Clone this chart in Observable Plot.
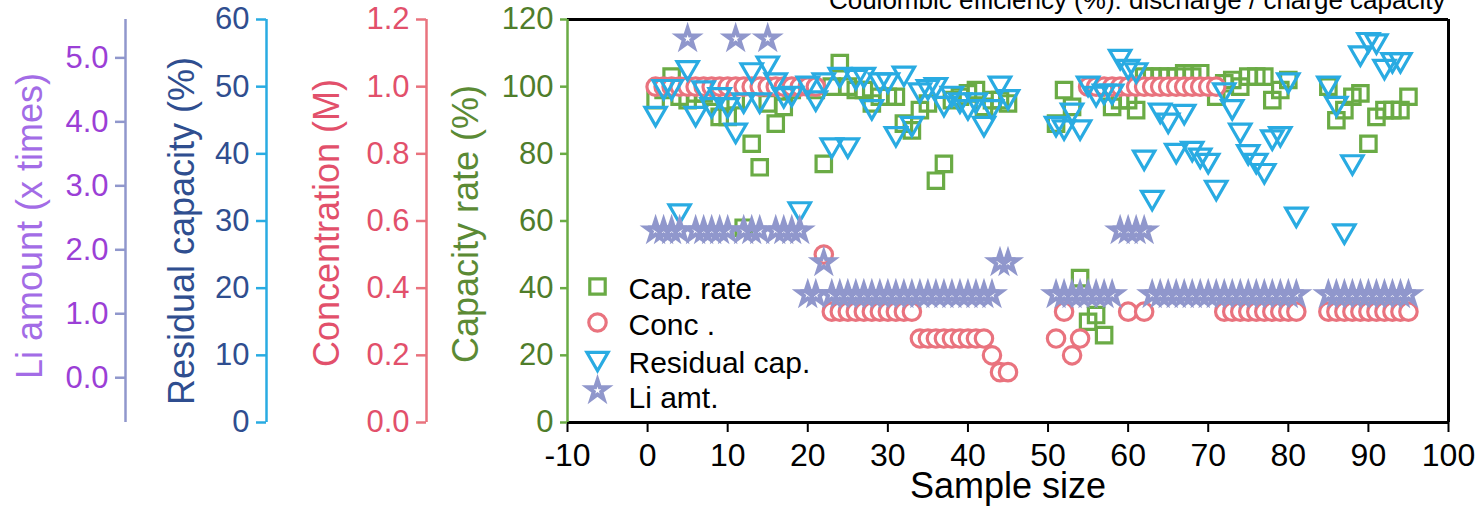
<!DOCTYPE html>
<html><head><meta charset="utf-8">
<script src="https://cdn.jsdelivr.net/npm/d3@7"></script>
<script src="https://cdn.jsdelivr.net/npm/@observablehq/plot@0.6"></script>
<style>
html,body{margin:0;padding:0;background:#fff;}
#chart{width:1483px;height:507px;overflow:hidden;}
</style></head><body><div id="chart"></div>
<script>
const FONT = "'Liberation Sans', Arial, Helvetica, sans-serif";

// ---- axis domains (each series has its own y axis) ----
const capDomain = [0, 120];
const concDomain = [0, 1.2];
const resDomain = [0, 60];
const liDomain = [-0.7, 5.6];

// ---- tick labels ----
const xTicks = [-10, 0, 10, 20, 30, 40, 50, 60, 70, 80, 90, 100];
const capTicks = [0, 20, 40, 60, 80, 100, 120];
const concTicks = [0, 0.2, 0.4, 0.6, 0.8, 1.0, 1.2];
const resTicks = [0, 10, 20, 30, 40, 50, 60];
const liTicks = [0, 1, 2, 3, 4, 5];

// ---- series: capacity rate (%) ----
const capX = [1,2,3,4,5,6,7,8,9,10,11,12,13,14,15,16,17,18,19,20,21,22,23,24,25,26,27,28,29,30,31,32,33,34,35,36,37,38,39,40,41,42,43,44,45,
  51,52,53,54,55,56,57,58,59,60,61,62,63,64,65,66,67,68,69,70,71,72,73,74,75,76,77,78,79,80,
  85,86,87,88,89,90,91,92,93,94,95];
const capRate = [96,99,103,97,96,98,98,97,91,91,96,58,83,76,95,89,94,99,100,100,99,77,100,107,100,99,99,95,97,97,97,89,87,93,95,72,77,96,97,98,99,94,96,96,95,
  89,99,94,43,30,32,26,94,96,96,93,103,103,103,103,103,104,103,104,100,97,101,102,100,103,103,103,96,99,102,
  100,90,93,97,98,83,91,93,93,93,97];

// ---- series: concentration (M) ----
const concX = [1,2,3,4,5,6,7,8,9,10,11,12,13,14,15,16,17,18,19,20,21,22,23,24,25,26,27,28,29,30,31,32,33,34,35,36,37,38,39,40,41,42,43,44,45,
  51,52,53,54,55,56,57,58,59,60,61,62,63,64,65,66,67,68,69,70,71,60,62,
  72,73,74,75,76,77,78,79,80,81,85,86,87,88,89,90,91,92,93,94,95];
const concVal = [1.0,1.0,1.0,1.0,1.0,1.0,1.0,1.0,1.0,1.0,1.0,1.0,1.0,1.0,1.0,1.0,1.0,1.0,1.0,1.0,1.0,0.5,
  0.33,0.33,0.33,0.33,0.33,0.33,0.33,0.33,0.33,0.33,0.33,
  0.25,0.25,0.25,0.25,0.25,0.25,0.25,0.25,0.25,0.2,0.15,0.15,
  0.25,0.33,0.2,0.25,1.0,1.0,1.0,1.0,1.0,1.0,1.0,1.0,1.0,1.0,1.0,1.0,1.0,1.0,1.0,1.0,1.0,0.33,0.33,
  0.33,0.33,0.33,0.33,0.33,0.33,0.33,0.33,0.33,0.33,
  0.33,0.33,0.33,0.33,0.33,0.33,0.33,0.33,0.33,0.33,0.33];

// ---- series: residual capacity (%) ----
const resX = [1,2,3,4,5,6,7,8,9,10,11,12,13,14,15,16,17,18,19,20,21,22,23,24,25,26,27,28,29,30,31,32,33,34,35,36,37,38,39,40,41,42,43,44,45,
  51,52,53,54,55,56,57,58,59,60,61,62,63,64,65,66,67,68,69,70,71,72,73,74,75,76,77,78,79,80,81,
  85,86,87,88,89,90,91,92,93,94];
const resVal = [46,50,50,31.5,52.8,46,49.8,47.3,48.8,47.3,43.5,48,52.5,48,53.5,51,48.8,49,31.8,50.5,48.3,51,41.3,51.8,41.3,51.5,51.8,47,51,51,43,52,44.5,49.5,50,50.3,47.5,49,48,47,48,44.5,47,50.5,48.5,
  44.5,44,46.5,44,50.5,49,49.3,49.3,54.5,53,52.5,39.5,33.5,46.5,45,40.5,46.3,40.8,39.8,39,35,49.5,47,43.5,40.3,39,37.5,42.5,43,51,31,
  50.5,47.5,28.5,38.8,55,57,56.8,53,54,54];

// ---- series: Li amount (x times) ----
const liX = [1,2,3,4,5,6,7,8,9,10,11,12,13,14,15,16,17,18,19,20,21,22,23,24,25,26,27,28,29,30,31,32,33,34,35,36,37,38,39,40,41,42,43,44,45,
  51,52,53,54,55,56,57,58,59,60,61,62,63,64,65,66,67,68,69,70,71,72,73,74,75,76,77,78,79,80,81,
  85,86,87,88,89,90,91,92,93,94,95];
const liVal = [2.3,2.3,2.3,2.3,5.3,2.3,2.3,2.3,2.3,2.3,5.3,2.3,2.3,2.3,5.3,2.3,2.3,2.3,2.3,1.3,1.3,1.8,
  1.3,1.3,1.3,1.3,1.3,1.3,1.3,1.3,1.3,1.3,1.3,1.3,1.3,1.3,1.3,1.3,1.3,1.3,1.3,1.3,1.3,1.8,1.8,
  1.3,1.3,1.3,1.3,1.3,1.3,1.3,1.3,2.3,2.3,2.3,2.3,
  1.3,1.3,1.3,1.3,1.3,1.3,1.3,1.3,1.3,1.3,1.3,1.3,1.3,1.3,1.3,1.3,1.3,1.3,1.3,
  1.3,1.3,1.3,1.3,1.3,1.3,1.3,1.3,1.3,1.3,1.3];

const legendLabels = ["Cap. rate", "Conc .", "Residual cap.", "Li amt."];
const axisTitles = ["Li amount (x times)", "Residual capacity (%)", "Concentration (M)", "Capacity rate (%)"];
const chartTitle = "Coulombic efficiency (%): discharge / charge capacity";
const xLabel = "Sample size";

// ---- colours ----
const C = {
  cap: "#6aab45", capText: "#4f7d2b", capTitle: "#5b8a35",
  conc: "#e9737e", concText: "#e2506b",
  res: "#29abe2", resText: "#2f4e8f",
  li: "#9097cc", liText: "#9b3fd6", liTitle: "#a36ce6"
};

// map each axis domain onto the shared 0-120 plotting range
const toShared = dom => v => (v - dom[0]) / (dom[1] - dom[0]) * 120;
const fromShared = dom => c => dom[0] + c / 120 * (dom[1] - dom[0]);

const capData = capX.map((x, i) => ({x, y: toShared(capDomain)(capRate[i])}));
const concData = concX.map((x, i) => ({x, y: toShared(concDomain)(concVal[i])}));
const resData = resX.map((x, i) => ({x, y: toShared(resDomain)(resVal[i])}));
const liData = liX.map((x, i) => ({x, y: toShared(liDomain)(liVal[i])}));

const downTri = {
  draw(ctx, size) {
    const r = Math.sqrt(size / Math.PI), R = r * 1.5, h = R * Math.sqrt(3) / 2;
    ctx.moveTo(0, R); ctx.lineTo(-h, -R / 2); ctx.lineTo(h, -R / 2); ctx.closePath();
  }
};

const fmt1 = dom => c => (Math.round(fromShared(dom)(c) * 10) / 10).toFixed(1);
const fmt0 = dom => c => String(Math.round(fromShared(dom)(c)));

function leftAxis(dom, ticks, fmt, dx, tickSize, lineColor, textColor) {
  return [
    Plot.ruleX([-10], {dx, y1: 0, y2: 120, stroke: lineColor, strokeWidth: 2.5}),
    Plot.axisY({anchor: "left", dx, ticks: ticks.map(toShared(dom)), tickFormat: fmt(dom),
      tickSize, tickPadding: 7, stroke: lineColor, strokeWidth: 2.5, fill: textColor,
      fontSize: 31, label: null})
  ];
}

const symbols = [
  {symbol: "square", r: 8.7, stroke: C.cap, fill: "none", strokeWidth: 3.2},
  {symbol: "circle", r: 8.7, stroke: C.conc, fill: "white", strokeWidth: 3.2},
  {symbol: downTri, r: 8.2, stroke: C.res, fill: "none", strokeWidth: 3.2},
  {symbol: "star", r: 6.2, stroke: C.li, fill: "none", strokeWidth: 4}
];
const legendSymDy = [267, 303, 339, 371];
const legendTextDy = [270, 306, 344, 379];

function vTitle(text, dx, dy, fill) {
  return Plot.text([text], {frameAnchor: "left", dx, dy, rotate: -90, textAnchor: "middle",
    lineAnchor: "middle", fontSize: 36, fill});
}

const marks = [
  // frame
  Plot.ruleY([120], {x1: -10, x2: 100, stroke: "black", strokeWidth: 3}),
  Plot.ruleX([100], {y1: 0, y2: 120, stroke: "black", strokeWidth: 3}),
  Plot.ruleY([0], {x1: -10, x2: 100, stroke: "black", strokeWidth: 3}),
  // x axis
  Plot.axisX({ticks: xTicks, tickFormat: d => String(d), tickSize: 10, tickPadding: 11,
    stroke: "black", strokeWidth: 2, fill: "black", fontSize: 32, label: null}),
  Plot.text([xLabel], {frameAnchor: "bottom", dy: 64, textAnchor: "middle", lineAnchor: "middle", fontSize: 36, fill: "black"}),
  // left axes
  ...leftAxis(liDomain, liTicks, fmt1, -442, 10, C.li, C.liText),
  ...leftAxis(resDomain, resTicks, fmt0, -301, 10, C.res, C.resText),
  ...leftAxis(concDomain, concTicks, fmt1, -141, 10, C.conc, C.concText),
  ...leftAxis(capDomain, capTicks, fmt0, 0, 7, C.cap, C.capText),
  vTitle(axisTitles[0], -537, 5, C.liTitle),
  vTitle(axisTitles[1], -385, 10, C.resText),
  vTitle(axisTitles[2], -240, 2, C.concText),
  vTitle(axisTitles[3], -101, 3, C.capTitle),
  // title (cut at the top)
  Plot.text([chartTitle], {frameAnchor: "top-right", dx: -3, dy: -19.3, textAnchor: "end", lineAnchor: "middle", fontSize: 26, fill: "black"}),
  // data
  Plot.dot(capData, {x: "x", y: "y", ...symbols[0]}),
  Plot.dot(concData, {x: "x", y: "y", ...symbols[1]}),
  Plot.dot(resData, {x: "x", y: "y", ...symbols[2]}),
  Plot.dot(liData, {x: "x", y: "y", ...symbols[3]}),
  // legend
  ...legendLabels.flatMap((lab, i) => [
    Plot.dot([lab], {frameAnchor: "top-left", dx: 30, dy: legendSymDy[i], ...symbols[i]}),
    Plot.text([lab], {frameAnchor: "top-left", dx: 61, dy: legendTextDy[i], textAnchor: "start", lineAnchor: "middle", fontSize: 30, fill: "black"})
  ])
];

const chart = Plot.plot({
  width: 1483, height: 507,
  marginLeft: 567, marginRight: 35, marginTop: 19, marginBottom: 85,
  x: {domain: [-10, 100], axis: null},
  y: {domain: [0, 120], axis: null},
  style: {fontFamily: FONT, background: "white", overflow: "visible"},
  marks
});
document.getElementById("chart").appendChild(chart);
</script>
</body></html>
